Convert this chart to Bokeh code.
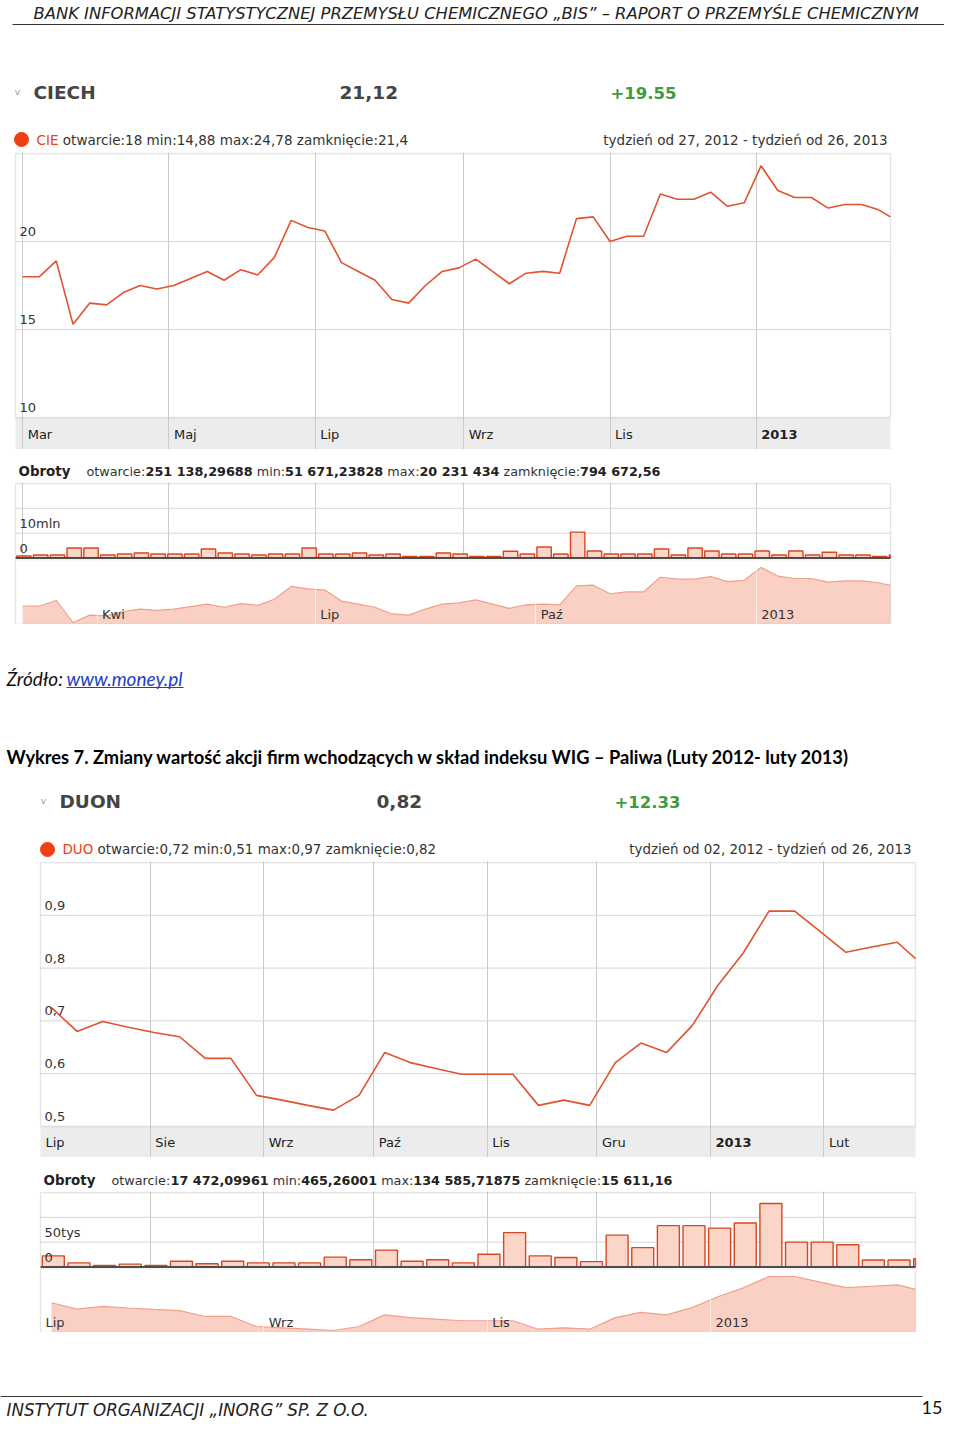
import pandas as pd
from bokeh.plotting import figure
from bokeh.layouts import column
from bokeh.models import Range1d, FixedTicker, BoxAnnotation, Grid
from bokeh.core.properties import value
from bokeh.embed import file_html
from bokeh.resources import INLINE

# ---------------- texts ----------------
HEADER = "BANK INFORMACJI STATYSTYCZNEJ PRZEMYSŁU CHEMICZNEGO „BIS” – RAPORT O PRZEMYŚLE CHEMICZNYM"
FOOTER = "INSTYTUT ORGANIZACJI „INORG” SP. Z O.O."
PAGE_NO = "15"
SOURCE_LABEL = "Źródło:"
SOURCE_LINK = "www.money.pl"
FIG_TITLE = "Wykres 7. Zmiany wartość akcji firm wchodzących w skład indeksu WIG – Paliwa (Luty 2012- luty 2013)"
VOL_TITLE = "Obroty"

# ---------------- CIECH ----------------
CIECH_NAME, CIECH_LAST, CIECH_CHANGE = "CIECH", "21,12", "+19.55"
CIECH_TICKER = "CIE"
CIECH_STATS = "otwarcie:18 min:14,88 max:24,78 zamknięcie:21,4"
CIECH_PERIOD = "tydzień od 27, 2012 - tydzień od 26, 2013"
CIECH_VOL_STATS = [("otwarcie:", "251 138,29688"), ("min:", "51 671,23828"),
                   ("max:", "20 231 434"), ("zamknięcie:", "794 672,56")]
CIECH_RANGE = ["2012-02-27", "2013-02-26"]
CIECH_POINT_DATES = list(pd.date_range("2012-03-01", periods=52, freq="7D").strftime("%Y-%m-%d")) + ["2013-02-26"]
CIECH_CLOSE = [18.0, 18.0, 18.9, 15.3, 16.5, 16.4, 17.1, 17.5, 17.3, 17.5,
               17.9, 18.3, 17.8, 18.4, 18.1, 19.1, 21.2, 20.8, 20.6, 18.8,
               18.3, 17.8, 16.7, 16.5, 17.5, 18.3, 18.5, 19.0, 18.3, 17.6,
               18.2, 18.3, 18.2, 21.3, 21.4, 20.0, 20.3, 20.3, 22.7, 22.4,
               22.4, 22.8, 22.0, 22.2, 24.3, 22.9, 22.5, 22.5, 21.9, 22.1,
               22.1, 21.8, 21.4]
CIECH_WEEKS = list(pd.date_range("2012-02-27", periods=53, freq="7D").strftime("%Y-%m-%d"))
CIECH_VOL = [0.8, 1.2, 1.2, 4.0, 4.0, 1.2, 1.6, 2.0, 1.6, 1.6,
             1.6, 3.6, 2.0, 1.6, 1.2, 1.6, 1.6, 4.0, 1.6, 1.6,
             2.0, 1.2, 1.6, 0.6, 0.6, 2.0, 1.6, 0.6, 0.6, 2.7,
             1.6, 4.4, 1.6, 10.4, 2.8, 1.6, 1.6, 1.6, 3.6, 1.2,
             4.0, 2.8, 1.6, 1.6, 2.8, 1.2, 2.8, 1.2, 2.3, 1.2,
             1.2, 0.6, 1.2]  # mln
CIECH_Y = [10, 25]
CIECH_Y_TICKS = [10, 15, 20]
CIECH_Y_LABELS = ["10", "15", "20"]
CIECH_MONTHS = ["2012-03-01", "2012-05-01", "2012-07-01", "2012-09-01", "2012-11-01", "2013-01-01"]
CIECH_MONTH_LABELS = ["Mar", "Maj", "Lip", "Wrz", "Lis", "2013"]
CIECH_NAV = ["2012-04-01", "2012-07-01", "2012-10-01", "2013-01-01"]
CIECH_NAV_LABELS = ["Kwi", "Lip", "Paź", "2013"]
CIECH_VOL_MAX = 30
CIECH_VOL_TICKS = [0, 10, 20]
CIECH_VOL_LABELS = ["0", "10mln", ""]

# ---------------- DUON ----------------
DUON_NAME, DUON_LAST, DUON_CHANGE = "DUON", "0,82", "+12.33"
DUON_TICKER = "DUO"
DUON_STATS = "otwarcie:0,72 min:0,51 max:0,97 zamknięcie:0,82"
DUON_PERIOD = "tydzień od 02, 2012 - tydzień od 26, 2013"
DUON_VOL_STATS = [("otwarcie:", "17 472,09961"), ("min:", "465,26001"),
                  ("max:", "134 585,71875"), ("zamknięcie:", "15 611,16")]
DUON_RANGE = ["2012-07-02", "2013-02-26"]
DUON_POINT_DATES = list(pd.date_range("2012-07-05", periods=34, freq="7D").strftime("%Y-%m-%d")) + ["2013-02-26"]
DUON_CLOSE = [0.725, 0.680, 0.699, 0.688, 0.678, 0.670, 0.629, 0.629, 0.559, 0.550,
              0.540, 0.531, 0.559, 0.640, 0.621, 0.610, 0.599, 0.599, 0.599, 0.540,
              0.550, 0.540, 0.621, 0.658, 0.640, 0.691, 0.767, 0.829, 0.908, 0.908,
              0.869, 0.830, 0.840, 0.849, 0.818]
DUON_WEEKS = list(pd.date_range("2012-07-02", periods=35, freq="7D").strftime("%Y-%m-%d"))
DUON_VOL = [22.4, 8.3, 3.2, 5.8, 3.2, 11.5, 6.4, 11.5, 8.3, 8.3,
            8.3, 19.9, 14.7, 34.0, 11.5, 14.7, 8.3, 25.6, 69.2, 22.4,
            19.2, 10.9, 64.1, 39.1, 83.3, 83.3, 78.2, 88.5, 128.0, 50.0,
            50.0, 44.9, 14.1, 14.1, 16.7]  # tys
DUON_Y = [0.5, 1.0]
DUON_Y_TICKS = [0.5, 0.6, 0.7, 0.8, 0.9]
DUON_Y_LABELS = ["0,5", "0,6", "0,7", "0,8", "0,9"]
DUON_MONTHS = ["2012-07-01", "2012-08-01", "2012-09-01", "2012-10-01", "2012-11-01",
               "2012-12-01", "2013-01-01", "2013-02-01"]
DUON_MONTH_LABELS = ["Lip", "Sie", "Wrz", "Paź", "Lis", "Gru", "2013", "Lut"]
DUON_NAV = ["2012-07-01", "2012-09-01", "2012-11-01", "2013-01-01"]
DUON_NAV_LABELS = ["Lip", "Wrz", "Lis", "2013"]
DUON_VOL_MAX = 150
DUON_VOL_TICKS = [0, 50, 100]
DUON_VOL_LABELS = ["0", "50tys", ""]

# ---------------- styles ----------------
W = 944
FONT = "DejaVu Sans"
DOC_FONT = "Lato"
TXT = "#333333"
TITLE_C = "#444444"
GREEN = "#3e9b3e"
RED = "#ee3f14"
LINE = "#e1522e"
BAR_FILL = "#fcd5c9"
BAR_LINE = "#d9471f"
NAV_FILL = "#fad0c4"
NAV_LINE = "#f0a08a"
BAND = "#ececec"
GRID_C = "#d6d6d6"
VGRID_C = "#cbcbcb"
BORDER = "#a9a9a9"
DAY = 86400000.0

# approximate DejaVu Sans advance widths (em)
REG, BOLD = {}, {}
for chars, w in [(" ,.", .318), (":", .337), ("-", .361), ("–", .5), ("+", .838), ("()", .39), ("„”", .511),
                 ("0123456789", .636), ("aą", .613), ("b", .635), ("cć", .55), ("d", .635), ("eę", .615),
                 ("f", .352), ("g", .635), ("h", .634), ("ij", .278), ("k", .579), ("l", .278), ("ł", .291),
                 ("m", .974), ("nń", .634), ("oó", .612), ("pq", .635), ("r", .411), ("sś", .521), ("t", .392),
                 ("u", .634), ("vxy", .592), ("w", .818), ("zźż", .525), ("A", .684), ("B", .686), ("C", .698),
                 ("D", .77), ("E", .632), ("F", .575), ("G", .775), ("H", .752), ("IJ", .295), ("K", .656),
                 ("L", .557), ("Ł", .562), ("M", .863), ("N", .748), ("OQ", .787), ("P", .603), ("R", .695),
                 ("SŚ", .635), ("T", .611), ("U", .732), ("V", .684), ("W", .989), ("X", .685), ("Y", .611),
                 ("ZŹŻ", .685)]:
    for c in chars:
        REG[c] = w
for chars, w in [(" ", .348), (",.", .38), (":", .4), ("-", .415), ("+", .838), ("0123456789", .696),
                 ("a", .675), ("b", .716), ("c", .593), ("d", .716), ("eę", .678), ("f", .435), ("g", .716),
                 ("h", .712), ("ij", .343), ("k", .665), ("l", .343), ("m", 1.042), ("n", .712), ("o", .687),
                 ("p", .716), ("r", .493), ("s", .595), ("t", .478), ("u", .712), ("vy", .652), ("w", .924),
                 ("x", .645), ("z", .582), ("A", .774), ("B", .762), ("C", .734), ("D", .83), ("E", .683),
                 ("F", .683), ("G", .821), ("H", .837), ("IJ", .372), ("K", .775), ("L", .637), ("M", .995),
                 ("N", .837), ("O", .85), ("P", .733), ("R", .77), ("S", .72), ("T", .682), ("U", .812),
                 ("W", 1.103), ("Y", .724), ("Z", .725)]:
    for c in chars:
        BOLD[c] = w


def tw(s, bold=False):
    t = BOLD if bold else REG
    return sum(t.get(c, 0.6) for c in s)


def to_ms(dates):
    return [float(v) / 1e6 for v in pd.DatetimeIndex(pd.to_datetime(dates)).asi8]


def px_range(v0, v1, p0, p1, total):
    """range so that v0 sits at pixel p0 and v1 at pixel p1 of a 0..total frame"""
    s = (v1 - v0) / (p1 - p0)
    return (v0 - p0 * s, v0 + (total - p0) * s)


def put(p, x, y, text, size, color=TXT, bold=False, italic=False, align="left", font=FONT):
    style = ("bold italic" if bold and italic else "bold" if bold else
             "italic" if italic else "normal")
    p.text(x=[x], y=[y], text=[text], text_font=value(font), text_font_size=f"{size:.2f}px",
           text_color=color, text_font_style=style, text_align=align, text_baseline="middle")


def runs(p, x, y, pieces, size):
    for s, bold, color in pieces:
        if s.startswith(" "):
            x += (BOLD if bold else REG)[" "] * size
            s = s[1:]
        put(p, x, y, s, size, color, bold)
        x += tw(s, bold) * size


def fit(pieces, span):
    return span / sum(tw(s, b) for s, b, _ in pieces)


def bare_fig(h, xr, yr):
    p = figure(width=W, height=h, x_range=Range1d(*xr), y_range=Range1d(*yr),
               output_backend="svg", toolbar_location=None,
               x_axis_location=None, y_axis_location=None,
               min_border=0, min_border_left=0, min_border_right=0,
               min_border_top=0, min_border_bottom=0, outline_line_color=None,
               border_fill_color="white", background_fill_color="white")
    p.center = [r for r in p.center if not isinstance(r, Grid)]
    return p


def text_fig(h):
    return bare_fig(h, (0, W), (h, 0))


def vgrid(p, ticks, x0, x1, **kw):
    t = [v for v in to_ms(ticks) if x0 < v < x1]
    p.add_layout(Grid(dimension=0, ticker=FixedTicker(ticks=t), **kw))


def hgrid(p, ticks, x0, x1):
    p.segment(x0=[x0] * len(ticks), x1=[x1] * len(ticks), y0=ticks, y1=ticks,
              line_color=GRID_C, line_width=1)


def axis_labels(p, x0, ticks, labels):
    p.text(x=[x0] * len(ticks), y=ticks, text=labels, x_offset=4, y_offset=-10,
           text_font=value(FONT), text_font_size="13px", text_color=TXT, text_baseline="middle")


def price_chart(h, px0, px1, rng, yr, yticks, ylabels, dates, close, months, mlabels,
                band_px=32, top_px=1):
    x0, x1 = to_ms(rng)
    lo, hi = yr
    p = bare_fig(h, px_range(x0, x1, px0, px1, W), px_range(lo, hi, band_px, h - top_px, h))
    ystart = p.y_range.start
    p.add_layout(BoxAnnotation(left=x0, right=x1, top=lo, fill_color=BAND, fill_alpha=1,
                               line_alpha=0, level="image"))
    vgrid(p, months, x0, x1, grid_line_color=VGRID_C)
    hgrid(p, [t for t in yticks if lo < t < hi], x0, x1)
    p.add_layout(BoxAnnotation(left=x0, right=x1, bottom=lo, top=hi, fill_alpha=0,
                               line_color=BORDER, line_width=1.3))
    p.line(to_ms(dates), close, line_color=LINE, line_width=1.6)
    axis_labels(p, x0, yticks, ylabels)
    mx = [max(v, x0) for v in to_ms(months)]
    for bold in (False, True):
        xs = [x for x, l in zip(mx, mlabels) if l.isdigit() == bold]
        ls = [l for l in mlabels if l.isdigit() == bold]
        p.text(x=xs, y=[ystart] * len(xs), text=ls, x_offset=5, y_offset=-15,
               text_font=value(FONT), text_font_size="13px", text_color="#222",
               text_font_style="bold" if bold else "normal", text_baseline="middle")
    return p


def volume_chart(h, px0, px1, rng, vmax, vticks, vlabels, weeks, vols, months, top_px=1, base_px=1.5):
    x0, x1 = to_ms(rng)
    p = bare_fig(h, px_range(x0, x1, px0, px1, W), px_range(0, vmax, base_px, h - top_px, h))
    vgrid(p, months, x0, x1, grid_line_color=VGRID_C)
    hgrid(p, [t for t in vticks if 0 < t < vmax], x0, x1)
    p.add_layout(BoxAnnotation(left=x0, right=x1, top=vmax, fill_alpha=0,
                               line_color=BORDER, line_width=1.3))
    ws = to_ms(weeks)
    left = [v + 0.5 * DAY for v in ws]
    right = [min(v + 6.5 * DAY, x1) for v in ws]
    p.quad(left=left, right=right, top=vols, bottom=0, fill_color=BAR_FILL,
           line_color=BAR_LINE, line_width=1.4)
    p.segment(x0=[x0], x1=[x1], y0=[0], y1=[0], line_color="#4a4a4a", line_width=2)
    axis_labels(p, x0, vticks, vlabels)
    return p


def nav_chart(h, px0, px1, rng, dates, close, ticks, labels):
    x0, x1 = to_ms(rng)
    vmin, vmax = min(close), max(close)
    p = bare_fig(h, px_range(x0, x1, px0, px1, W), px_range(vmin, vmax, 2, h - 8, h))
    ystart = p.y_range.start
    xs = to_ms(dates)
    p.varea(x=xs, y1=[ystart] * len(xs), y2=close, fill_color=NAV_FILL)
    p.line(xs, close, line_color=NAV_LINE, line_width=1.2)
    vgrid(p, ticks, x0, x1, grid_line_color="#ffffff", grid_line_alpha=0.6, level="overlay")
    p.add_layout(BoxAnnotation(left=x0, right=x1, fill_alpha=0, line_color=BORDER, line_width=1.3))
    tx = [max(v, x0) for v in to_ms(ticks)]
    p.text(x=tx, y=[ystart] * len(tx), text=labels, x_offset=5, y_offset=-10,
           text_font=value(FONT), text_font_size="13px", text_color=TXT, text_baseline="middle")
    return p


def stock_header(p, xoff, y_name, y_leg, name, last, change, ticker, stats, period,
                 x_val, x_chg, span_leg, x_period):
    put(p, xoff - 16, y_name - 1, "v", 9, "#9a9a9a", align="center")
    put(p, xoff, y_name, name, 18.5, TITLE_C, bold=True)
    put(p, x_val, y_name, last, 18.5, TITLE_C, bold=True)
    put(p, x_chg, y_name, change, 16.5, GREEN, bold=True)
    p.scatter(x=[xoff - 12], y=[y_leg], size=14, fill_color=RED, line_color=RED)
    pieces = [(ticker, False, RED), (" " + stats, False, TXT)]
    s = fit(pieces, span_leg)
    runs(p, xoff + 3, y_leg, pieces, s)
    put(p, x_period, y_leg, period, s, TXT, align="right")


def vol_header(p, x_title, x_stats, y, stats, span):
    put(p, x_title, y, VOL_TITLE, 13.4, "#222", bold=True)
    pieces = []
    for i, (lab, val) in enumerate(stats):
        pieces.append(((" " if i else "") + lab, False, TXT))
        pieces.append((val, True, "#222"))
    runs(p, x_stats, y, pieces, fit(pieces, span))


# ---------------- blocks (page y: A 0-152, B -449, C -482, D -559, E -624,
#                  F -861, G -1157, H -1191, I -1268, J -1332, K -1420) ----------------
pA = text_fig(152)
put(pA, 33, 12.5, HEADER, 889 / tw(HEADER), "#222", italic=True)
pA.segment(x0=[12], y0=[24], x1=[W], y1=[24], line_color="#333", line_width=1.2)
stock_header(pA, 33, 92, 139, CIECH_NAME, CIECH_LAST, CIECH_CHANGE, CIECH_TICKER, CIECH_STATS,
             CIECH_PERIOD, 339, 610, 372, 887)

pB = price_chart(297, 15, 890, CIECH_RANGE, CIECH_Y, CIECH_Y_TICKS, CIECH_Y_LABELS,
                 CIECH_POINT_DATES, CIECH_CLOSE, CIECH_MONTHS, CIECH_MONTH_LABELS)

pC = text_fig(33)
vol_header(pC, 18, 86, 22, CIECH_VOL_STATS, 574)

pD = volume_chart(77, 15, 890, CIECH_RANGE, CIECH_VOL_MAX, CIECH_VOL_TICKS, CIECH_VOL_LABELS,
                  CIECH_WEEKS, CIECH_VOL, CIECH_MONTHS)
pE = nav_chart(65, 15, 890, CIECH_RANGE, CIECH_POINT_DATES, CIECH_CLOSE, CIECH_NAV, CIECH_NAV_LABELS)

pF = text_fig(237)
put(pF, 6, 54, SOURCE_LABEL, 19, "#111", italic=True, font=DOC_FONT)
put(pF, 66, 54, SOURCE_LINK, 19, "#1f3fc4", italic=True, font=DOC_FONT)
pF.segment(x0=[66], y0=[63], x1=[183], y1=[63], line_color="#1f3fc4", line_width=1)
put(pF, 6, 132, FIG_TITLE, 18.3, "#000", bold=True, font=DOC_FONT)
stock_header(pF, 59, 177, 225, DUON_NAME, DUON_LAST, DUON_CHANGE, DUON_TICKER, DUON_STATS,
             DUON_PERIOD, 376, 614, 374, 911)

pG = price_chart(296, 40, 915, DUON_RANGE, DUON_Y, DUON_Y_TICKS, DUON_Y_LABELS,
                 DUON_POINT_DATES, DUON_CLOSE, DUON_MONTHS, DUON_MONTH_LABELS, band_px=31)

pH = text_fig(34)
vol_header(pH, 43, 111, 23, DUON_VOL_STATS, 561)

pI = volume_chart(77, 40, 915, DUON_RANGE, DUON_VOL_MAX, DUON_VOL_TICKS, DUON_VOL_LABELS,
                  DUON_WEEKS, DUON_VOL, DUON_MONTHS)
pJ = nav_chart(64, 40, 915, DUON_RANGE, DUON_POINT_DATES, DUON_CLOSE, DUON_NAV, DUON_NAV_LABELS)

pK = text_fig(88)
pK.segment(x0=[0], y0=[64], x1=[922], y1=[64], line_color="#333", line_width=1.2)
put(pK, 6, 77, FOOTER, 366 / tw(FOOTER), "#222", italic=True)
put(pK, 942, 75, PAGE_NO, 18, "#111", align="right", font=DOC_FONT)

layout = column(pA, pB, pC, pD, pE, pF, pG, pH, pI, pJ, pK, spacing=0)
open("out.html", "w").write(file_html(layout, INLINE))
